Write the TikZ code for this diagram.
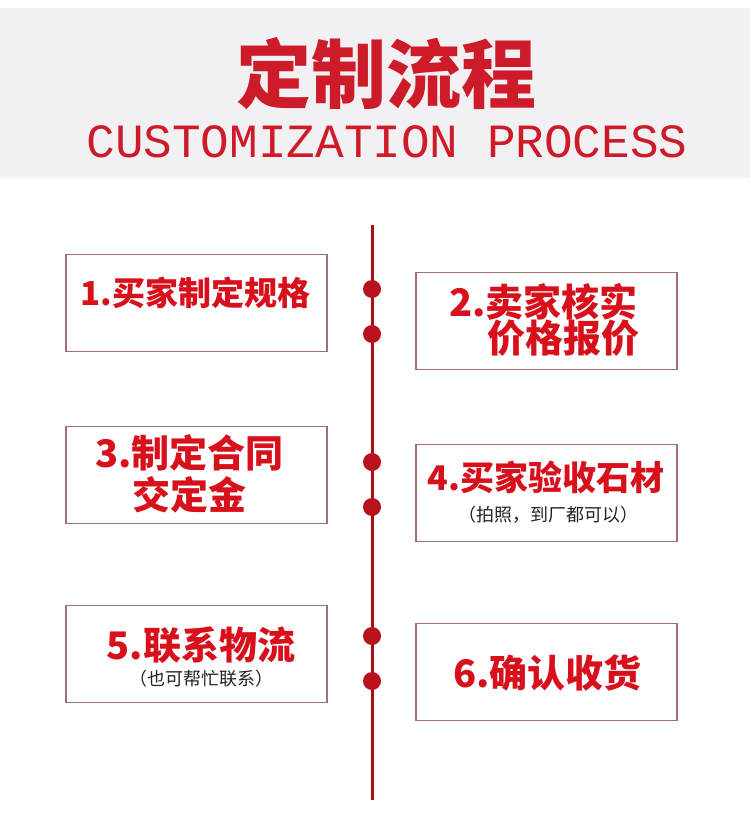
\documentclass[tikz,border=0pt]{standalone}
\usepackage{fontspec}
\newfontfamily\cjk{Noto Sans CJK SC}
\newfontfamily\mono{Liberation Mono}
\definecolor{bandgray}{HTML}{F1F1F3}
\definecolor{titlered}{HTML}{CE1B2A}
\definecolor{stepred}{HTML}{D8101C}
\definecolor{linered}{HTML}{A80F16}
\definecolor{dotred}{HTML}{B8121C}
\definecolor{boxline}{HTML}{A07070}
\definecolor{subgray}{HTML}{222222}
\tikzset{
  stepbox/.style={draw=boxline, line width=1.4pt, fill=white, minimum width=261pt, minimum height=97pt, inner sep=0pt},
  steptext/.style={text=stepred, inner sep=0pt, font=\cjk\bfseries},
  subtext/.style={text=subgray, inner sep=0pt, font=\cjk\fontsize{18}{20}\selectfont},
  dot/.style={circle, fill=dotred, minimum size=18pt, inner sep=0pt},
  spine/.style={draw=linered, line width=3pt}
}
\begin{document}
\begin{tikzpicture}[x=1pt, y=-1pt]
\useasboundingbox (0,0) rectangle (750,826);
\fill[white] (0,0) rectangle (750,826);
% header band
\fill[bandgray] (0,8) rectangle (750,178);
\node[text=titlered, inner sep=0pt, font=\cjk\bfseries\fontsize{75}{80}\selectfont] (title) at (386,74) {定制流程};
\node[text=titlered, inner sep=0pt, font=\mono\fontsize{47.7}{50}\selectfont] (subtitle) at (387,142) {CUSTOMIZATION PROCESS};
% spine
\coordinate (top) at (372,225);
\coordinate (bot) at (372,800);
\draw[spine] (top) -- (bot);
\node[dot] (d1) at (372,289) {};
\node[dot] (d2) at (372,334) {};
\node[dot] (d3) at (372,462) {};
\node[dot] (d4) at (372,507) {};
\node[dot] (d5) at (372,636) {};
\node[dot] (d6) at (372,681) {};
% boxes
\node[stepbox] (b1) at (196.5,303) {};
\node[stepbox] (b2) at (546.5,321) {};
\node[stepbox] (b3) at (196.5,475) {};
\node[stepbox] (b4) at (546.5,493) {};
\node[stepbox] (b5) at (196.5,654) {};
\node[stepbox] (b6) at (546.5,672) {};
% texts
\node[steptext, font=\cjk\bfseries\fontsize{33}{36}\selectfont] (t1) at (195.5,293) {1.买家制定规格};
\node[steptext, anchor=west, font=\cjk\bfseries\fontsize{38}{40}\selectfont] (t2a) at (449,302) {2.卖家核实};
\node[steptext, anchor=west, font=\cjk\bfseries\fontsize{38}{40}\selectfont] (t2b) at (487,338) {价格报价};
\node[steptext, anchor=west, font=\cjk\bfseries\fontsize{38}{40}\selectfont] (t3a) at (95,453) {3.制定合同};
\node[steptext, anchor=west, font=\cjk\bfseries\fontsize{38}{40}\selectfont] (t3b) at (132,495) {交定金};
\node[steptext, font=\cjk\bfseries\fontsize{34}{36}\selectfont] (t4) at (546,477) {4.买家验收石材};
\node[subtext] (s4) at (548,515) {（拍照，到厂都可以）};
\node[steptext, font=\cjk\bfseries\fontsize{38}{40}\selectfont] (t5) at (201,645) {5.联系物流};
\node[subtext] (s5) at (201,679) {（也可帮忙联系）};
\node[steptext, font=\cjk\bfseries\fontsize{38}{40}\selectfont] (t6) at (547.5,673) {6.确认收货};
\end{tikzpicture}
\end{document}
